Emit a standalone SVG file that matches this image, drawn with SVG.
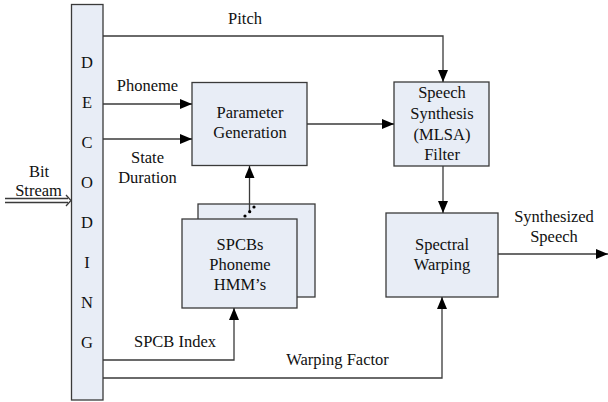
<svg xmlns="http://www.w3.org/2000/svg" width="608" height="402" viewBox="0 0 608 402">
  <defs>
    <marker id="arrow" viewBox="0 0 12 10" refX="12" refY="5" markerWidth="12" markerHeight="10" markerUnits="userSpaceOnUse" orient="auto">
      <path d="M0,0 L12,5 L0,10 Z" fill="#000"/>
    </marker>
  </defs>
  <style>
    .box { fill: #e8edf6; stroke: #3a3a3a; stroke-width: 1.3; }
    .line { fill: none; stroke: #3a3a3a; stroke-width: 1.3; }
    text { font-family: "Liberation Serif", "Times New Roman", serif; font-size: 16.5px; fill: #111; text-anchor: middle; }
  </style>
  <rect width="608" height="402" fill="#fff"/>

  <!-- decoding column -->
  <g id="decoding">
    <rect class="box" x="71.5" y="4.5" width="31.5" height="395.5"/>
    <text x="87" y="68">D</text>
    <text x="87" y="108">E</text>
    <text x="87" y="148">C</text>
    <text x="87" y="188">O</text>
    <text x="87" y="228">D</text>
    <text x="87" y="268">I</text>
    <text x="87" y="308">N</text>
    <text x="87" y="348">G</text>
  </g>

  <g id="param-gen">
    <rect class="box" x="192" y="82.5" width="115" height="83"/>
    <text x="250" y="118">Parameter</text>
    <text x="250" y="138">Generation</text>
  </g>

  <g id="synthesis-filter">
    <rect class="box" x="394" y="82" width="95" height="84"/>
    <text x="442" y="98">Speech</text>
    <text x="442" y="119">Synthesis</text>
    <text x="442" y="140">(MLSA)</text>
    <text x="442" y="160">Filter</text>
  </g>

  <g id="spectral-warping">
    <rect class="box" x="386" y="213" width="112" height="84"/>
    <text x="442" y="250">Spectral</text>
    <text x="442" y="270">Warping</text>
  </g>

  <g id="spcb-hmm">
    <rect class="box" x="198" y="204" width="117" height="93"/>
    <rect class="box" x="182" y="219" width="115" height="89"/>
    <text x="240" y="250">SPCBs</text>
    <text x="240" y="270">Phoneme</text>
    <text x="240" y="290">HMM’s</text>
  </g>

  <g id="connectors">
    <!-- pitch -->
    <polyline class="line" points="103,36 443,36 443,82" marker-end="url(#arrow)"/>
    <!-- phoneme / state duration -->
    <line class="line" x1="103" y1="104" x2="192" y2="104" marker-end="url(#arrow)"/>
    <line class="line" x1="103" y1="139" x2="192" y2="139" marker-end="url(#arrow)"/>
    <!-- parameters to filter -->
    <line class="line" x1="307" y1="124" x2="394" y2="124" marker-end="url(#arrow)"/>
    <!-- filter to warping -->
    <line class="line" x1="443" y1="166" x2="443" y2="213" marker-end="url(#arrow)"/>
    <!-- synthesized output -->
    <line class="line" x1="498" y1="254" x2="608" y2="254" marker-end="url(#arrow)"/>
    <!-- model to parameter generation -->
    <line class="line" x1="249.5" y1="212" x2="249.5" y2="166" marker-end="url(#arrow)"/>
    <circle cx="245" cy="216" r="1.6" fill="#000"/>
    <circle cx="249.7" cy="211.7" r="1.6" fill="#000"/>
    <circle cx="254" cy="207" r="1.6" fill="#000"/>
    <!-- SPCB index -->
    <polyline class="line" points="103,360 234,360 234,308" marker-end="url(#arrow)"/>
    <!-- warping factor -->
    <polyline class="line" points="103,378 442,378 442,297" marker-end="url(#arrow)"/>
    <!-- bit stream input (double arrow) -->
    <line class="line" x1="5" y1="198.5" x2="68" y2="198.5" stroke-width="1"/>
    <line class="line" x1="5" y1="202.5" x2="68" y2="202.5" stroke-width="1"/>
    <polyline class="line" points="66,195 71,200.5 66,206" stroke-width="1"/>
  </g>

  <g id="labels">
    <text x="245" y="24">Pitch</text>
    <text x="147.5" y="91">Phoneme</text>
    <text x="147.5" y="163">State</text>
    <text x="147.5" y="183">Duration</text>
    <text x="39" y="177">Bit</text>
    <text x="38.5" y="196">Stream</text>
    <text x="554" y="222">Synthesized</text>
    <text x="554" y="242">Speech</text>
    <text x="175" y="347">SPCB Index</text>
    <text x="337.5" y="365">Warping Factor</text>
  </g>
</svg>
